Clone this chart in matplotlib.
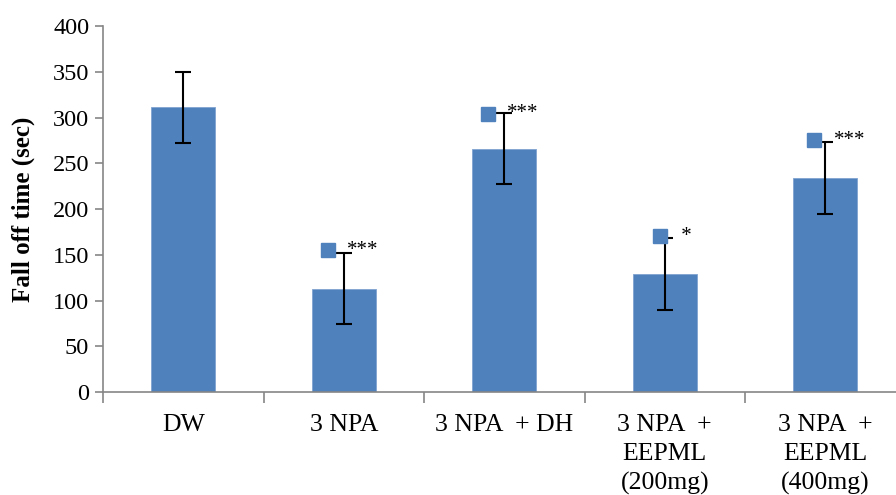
import matplotlib
matplotlib.use("Agg")
import matplotlib.pyplot as plt
import numpy as np

categories = ["DW", "3 NPA", "3 NPA  + DH", "3 NPA  +\nEEPML\n(200mg)", "3 NPA  +\nEEPML\n(400mg)"]
values = [311, 113, 266, 129, 234]
errors = [39, 39, 39, 39, 39]
sig_labels = ["", "***", "***", " *", "***"]
sig_marker_y = [None, 155, 304, 170, 275]
yticks = [0, 50, 100, 150, 200, 250, 300, 350, 400]

FONT = ["Liberation Serif", "DejaVu Serif"]
plt.rcParams["font.family"] = FONT
blue = "#4F81BD"
gray = "#868686"

fig = plt.figure(figsize=(8.96, 4.95), dpi=100)
ax = fig.add_axes([0.115, 0.208, 0.8956, 0.7395])
x = np.arange(len(categories))
ax.bar(x, values, width=0.4, color=blue, edgecolor="#7FA3D0", linewidth=0.6, zorder=2)
ax.errorbar(x, values, yerr=errors, fmt="none", ecolor="black", elinewidth=1.5,
            capsize=6, capthick=1.5, zorder=3)

marker_dx = [0, -0.10, -0.10, -0.03, -0.07]
text_dx = [0, 0.02, 0.02, 0.07, 0.055]
for i in range(len(categories)):
    if sig_marker_y[i] is None:
        continue
    ax.plot(x[i] + marker_dx[i], sig_marker_y[i], marker="s", markersize=10,
            color=blue, linestyle="none", zorder=4)
    ax.text(x[i] + text_dx[i], sig_marker_y[i], sig_labels[i], ha="left", va="center",
            fontsize=15, color="black", zorder=5)

ax.set_xlim(-0.5, len(categories) - 0.5)
ax.set_ylim(0, 400)
ax.set_yticks(yticks)
ax.set_yticklabels([str(t) for t in yticks], fontsize=17.5)
ax.set_xticks(x)
ax.set_xticklabels(categories, fontsize=18.5, linespacing=1.38)
ax.tick_params(axis="x", length=0, pad=16)
ax.set_xticks(np.arange(-0.5, len(categories), 1.0), minor=True)
ax.tick_params(axis="x", which="minor", length=8, color=gray, width=1.2, direction="out")
ax.tick_params(axis="y", length=6, color=gray, width=1.2, direction="out", pad=4)

for s in ["top", "right"]:
    ax.spines[s].set_visible(False)
for s in ["left", "bottom"]:
    ax.spines[s].set_color(gray)
    ax.spines[s].set_linewidth(1.2)

ax.set_ylabel("Fall off time (sec)", fontsize=18, fontweight="bold", labelpad=13)

fig.savefig("out.png", dpi=100)
